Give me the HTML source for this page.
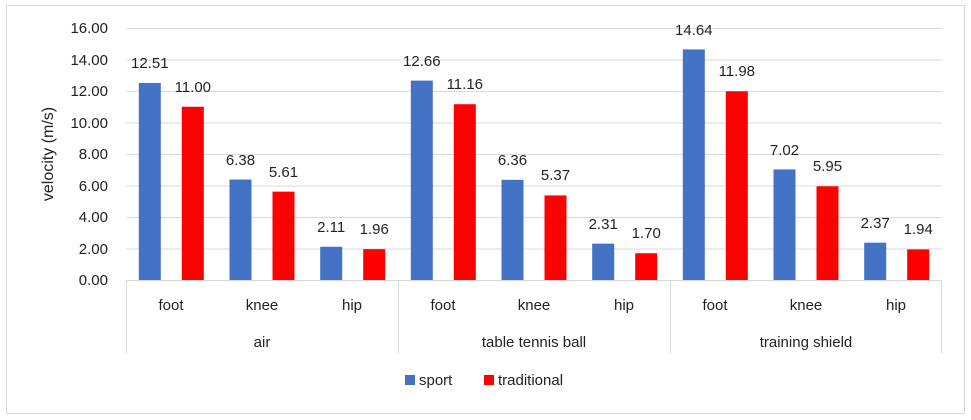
<!DOCTYPE html>
<html><head><meta charset="utf-8"><style>
body{margin:0;background:#fff;}
svg{display:block;font-family:"Liberation Sans",sans-serif;}
</style></head><body>
<svg width="971" height="420" viewBox="0 0 971 420">
<rect x="6.5" y="5.5" width="958" height="408" fill="#fff" stroke="#d9d9d9"/>
<g stroke="#d9d9d9" stroke-width="1">
<line x1="126" x2="942" y1="28.5" y2="28.5"/>
<line x1="126" x2="942" y1="60" y2="60"/>
<line x1="126" x2="942" y1="91.5" y2="91.5"/>
<line x1="126" x2="942" y1="123" y2="123"/>
<line x1="126" x2="942" y1="154.5" y2="154.5"/>
<line x1="126" x2="942" y1="186" y2="186"/>
<line x1="126" x2="942" y1="217.5" y2="217.5"/>
<line x1="126" x2="942" y1="249" y2="249"/>
<line x1="126" x2="942" y1="280.5" y2="280.5"/>
<line x1="126.5" x2="126.5" y1="280" y2="353"/>
<line x1="398.5" x2="398.5" y1="280" y2="353"/>
<line x1="670.5" x2="670.5" y1="280" y2="353"/>
<line x1="941.5" x2="941.5" y1="280" y2="353"/>
</g>
<g font-size="15" fill="#222" text-anchor="end">
<text x="108" y="33">16.00</text><text x="108" y="65">14.00</text><text x="108" y="96">12.00</text><text x="108" y="128">10.00</text><text x="108" y="159">8.00</text><text x="108" y="191">6.00</text><text x="108" y="222">4.00</text><text x="108" y="254">2.00</text><text x="108" y="285">0.00</text>
</g>
<text transform="translate(53,154) rotate(-90)" font-size="16" fill="#222" text-anchor="middle">velocity (m/s)</text>
<g fill="#4472c4">
<rect x="138.8" y="82.97" width="22" height="197.03"/>
<rect x="229.5" y="179.51" width="22" height="100.49"/>
<rect x="320.2" y="246.77" width="22" height="33.23"/>
<rect x="410.8" y="80.6" width="22" height="199.4"/>
<rect x="501.5" y="179.83" width="22" height="100.17"/>
<rect x="592.2" y="243.62" width="22" height="36.38"/>
<rect x="682.8" y="49.42" width="22" height="230.58"/>
<rect x="773.5" y="169.43" width="22" height="110.57"/>
<rect x="864.2" y="242.67" width="22" height="37.33"/>
</g>
<g fill="#ff0000">
<rect x="181.8" y="106.75" width="22" height="173.25"/>
<rect x="272.5" y="191.64" width="22" height="88.36"/>
<rect x="363.2" y="249.13" width="22" height="30.87"/>
<rect x="453.8" y="104.23" width="22" height="175.77"/>
<rect x="544.5" y="195.42" width="22" height="84.58"/>
<rect x="635.2" y="253.22" width="22" height="26.78"/>
<rect x="725.8" y="91.31" width="22" height="188.69"/>
<rect x="816.5" y="186.29" width="22" height="93.71"/>
<rect x="907.2" y="249.44" width="22" height="30.56"/>
</g>
<g font-size="15" fill="#222" text-anchor="middle">
<text x="149.8" y="68">12.51</text><text x="192.8" y="92">11.00</text>
<text x="240.5" y="165">6.38</text><text x="283.5" y="177">5.61</text>
<text x="331.2" y="232">2.11</text><text x="374.2" y="234">1.96</text>
<text x="421.8" y="66">12.66</text><text x="464.8" y="89">11.16</text>
<text x="512.5" y="165">6.36</text><text x="555.5" y="180">5.37</text>
<text x="603.2" y="229">2.31</text><text x="646.2" y="238">1.70</text>
<text x="693.8" y="35">14.64</text><text x="736.8" y="76">11.98</text>
<text x="784.5" y="155">7.02</text><text x="827.5" y="171">5.95</text>
<text x="875.2" y="228">2.37</text><text x="918.2" y="234">1.94</text>
</g>
<g font-size="15" fill="#222" text-anchor="middle">
<text x="171" y="310">foot</text><text x="262" y="310">knee</text><text x="352" y="310">hip</text>
<text x="443" y="310">foot</text><text x="534" y="310">knee</text><text x="624" y="310">hip</text>
<text x="715" y="310">foot</text><text x="806" y="310">knee</text><text x="896" y="310">hip</text>
<text x="262" y="347">air</text><text x="534" y="347">table tennis ball</text><text x="806" y="347">training shield</text>
</g>
<rect x="405" y="375" width="10" height="10" fill="#4472c4"/>
<text x="419" y="385" font-size="15" fill="#222">sport</text>
<rect x="484" y="375" width="10" height="10" fill="#ff0000"/>
<text x="498" y="385" font-size="15" fill="#222">traditional</text>
</svg>
</body></html>
